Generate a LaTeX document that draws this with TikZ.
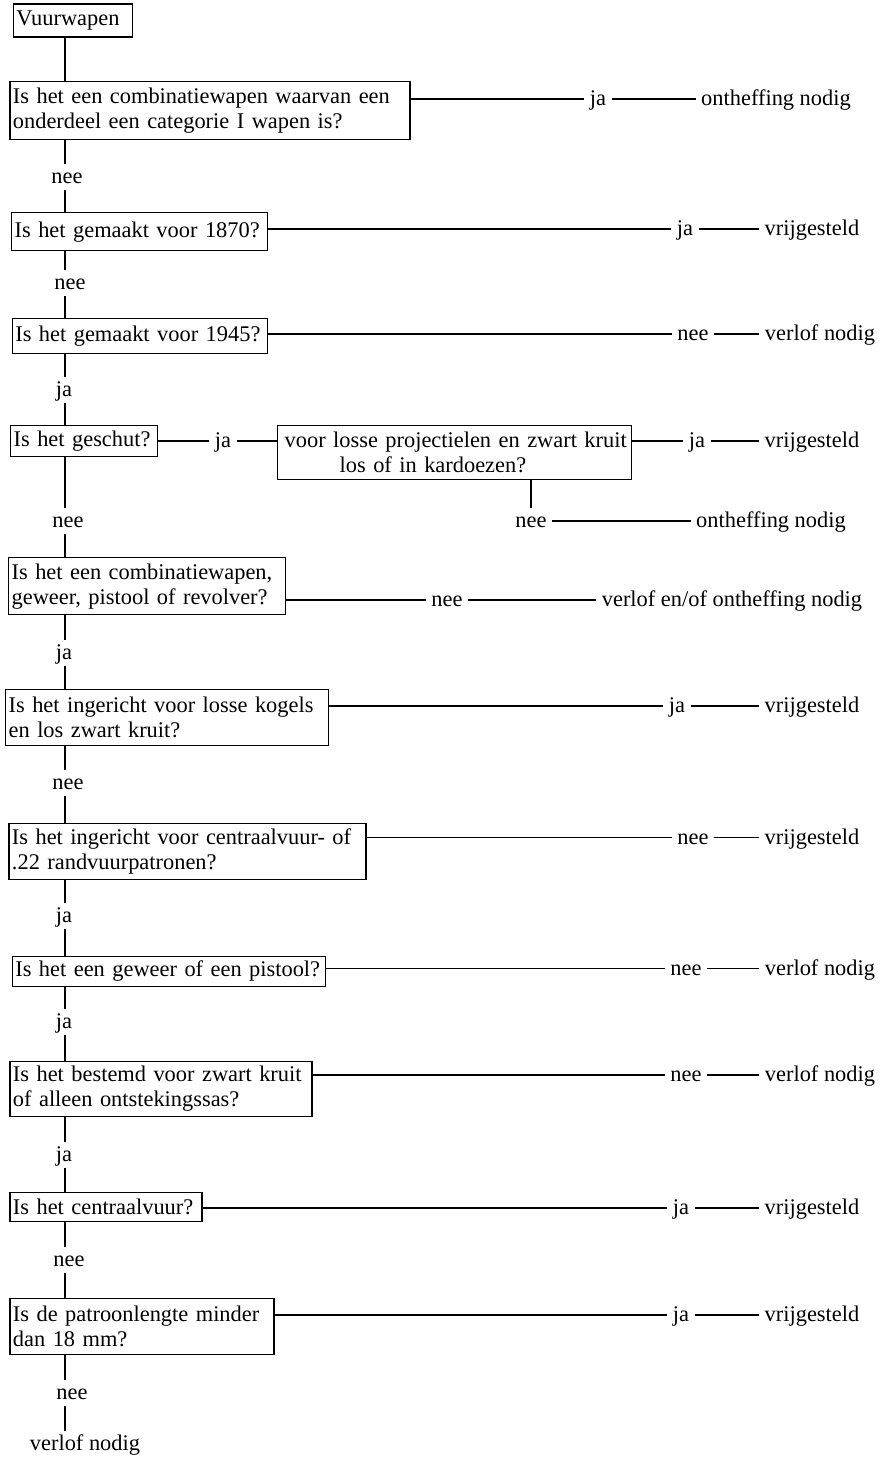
\documentclass[tikz,border=0pt]{standalone}
\usepackage{fontspec}
\setmainfont{Liberation Serif}

\begin{document}
\begin{tikzpicture}[x=1pt, y=-1pt, line width=1.3pt, font=\fontsize{22.4pt}{25pt}\selectfont]

        \tikzstyle{question}=[draw, anchor=north west, align=left, inner xsep=3pt, inner ysep=0pt]
        \tikzstyle{answer}=[inner xsep=5pt, inner ysep=6pt, text height=13pt, text depth=0pt]

        \useasboundingbox (0,0) rectangle (880,1457);
        \coordinate (spine) at (65,0);

        \node[question, text width=113pt, minimum height=33pt] (q0)  at (12.7,3.3)    {Vuurwapen};
        \node[question, text width=394pt, minimum height=58pt] (q1)  at (9.3,81)      {Is het een combinatiewapen waarvan een\\onderdeel een categorie I wapen is?};
        \node[question, text width=250pt, minimum height=38pt] (q2)  at (11,212)      {Is het gemaakt voor 1870?};
        \node[question, text width=249pt, minimum height=35pt] (q3)  at (11.7,318)    {Is het gemaakt voor 1945?};
        \node[question, text width=141pt, minimum height=31pt] (q4)  at (10,425)      {Is het geschut?};
        \node[question, text width=340pt, inner xsep=7pt, minimum height=54pt] (c4) at (277,425) {\mbox{voor losse projectielen en zwart kruit}\\\hspace*{55pt}los of in kardoezen?};
        \node[question, text width=271pt, minimum height=57pt] (q5)  at (8,557)       {Is het een combinatiewapen,\\geweer, pistool of revolver?};
        \node[question, text width=317pt, minimum height=56pt] (q6)  at (5,689)       {Is het ingericht voor losse kogels\\en los zwart kruit?};
        \node[question, text width=351pt, minimum height=56pt] (q7)  at (8.3,822.7)   {Is het ingericht voor centraalvuur- of\\.22 randvuurpatronen?};
        \node[question, text width=307pt, minimum height=30pt] (q8)  at (11.7,955.7)  {Is het een geweer of een pistool?};
        \node[question, text width=296pt, minimum height=55pt] (q9)  at (9.3,1060.7)  {Is het bestemd voor zwart kruit\\of alleen ontstekingssas?};
        \node[question, text width=186pt, minimum height=29pt] (q10) at (9.3,1191.7)  {Is het centraalvuur?};
        \node[question, text width=258pt, minimum height=56pt] (q11) at (9.3,1298)    {Is de patroonlengte minder\\dan 18 mm?};

        \node[answer] (n1)  at (67,177)  {nee};
        \node[answer] (n2)  at (70,283)  {nee};
        \node[answer] (n3)  at (64,390)  {ja};
        \node[answer] (n4)  at (68,521)  {nee};
        \node[answer] (n5)  at (64,653)  {ja};
        \node[answer] (n6)  at (68,783)  {nee};
        \node[answer] (n7)  at (64,916)  {ja};
        \node[answer] (n8)  at (64,1022) {ja};
        \node[answer] (n9)  at (64,1155) {ja};
        \node[answer] (n10) at (69,1260) {nee};
        \node[answer] (n11) at (72,1393) {nee};
        \node[answer] (r12) at (85,1444) {verlof nodig};

        \node[answer] (a1)  at (598,99)   {ja};
        \node[answer] (r1)  at (776,99)   {ontheffing nodig};
        \node[answer] (a2)  at (685,229)  {ja};
        \node[answer] (r2)  at (812,229)  {vrijgesteld};
        \node[answer] (a3)  at (693,334)  {nee};
        \node[answer] (r3)  at (820,334)  {verlof nodig};
        \node[answer] (a4)  at (223,441)  {ja};
        \node[answer] (aC)  at (697,441)  {ja};
        \node[answer] (rC1) at (812,441)  {vrijgesteld};
        \node[answer] (nC)  at (531,521)  {nee};
        \node[answer] (rC2) at (771,521)  {ontheffing nodig};
        \node[answer] (a5)  at (447,600)  {nee};
        \node[answer] (r5)  at (732,600)  {verlof en/of ontheffing nodig};
        \node[answer] (a6)  at (677,706)  {ja};
        \node[answer] (r6)  at (812,706)  {vrijgesteld};
        \node[answer] (a7)  at (693,837.5) {nee};
        \node[answer] (r7)  at (812,837.5) {vrijgesteld};
        \node[answer] (a8)  at (686,968.5) {nee};
        \node[answer] (r8)  at (820,968.5) {verlof nodig};
        \node[answer] (a9)  at (686,1075) {nee};
        \node[answer] (r9)  at (820,1075) {verlof nodig};
        \node[answer] (a10) at (681,1208) {ja};
        \node[answer] (r10) at (812,1208) {vrijgesteld};
        \node[answer] (a11) at (681,1315) {ja};
        \node[answer] (r11) at (812,1315) {vrijgesteld};

        \draw (q0.south -| spine) -- (q1.north -| spine);
        \draw (q1.south -| spine) -- (n1.north -| spine)  (n1.south -| spine) -- (q2.north -| spine);
        \draw (q2.south -| spine) -- (n2.north -| spine)  (n2.south -| spine) -- (q3.north -| spine);
        \draw (q3.south -| spine) -- (n3.north -| spine)  (n3.south -| spine) -- (q4.north -| spine);
        \draw (q4.south -| spine) -- (n4.north -| spine)  (n4.south -| spine) -- (q5.north -| spine);
        \draw (q5.south -| spine) -- (n5.north -| spine)  (n5.south -| spine) -- (q6.north -| spine);
        \draw (q6.south -| spine) -- (n6.north -| spine)  (n6.south -| spine) -- (q7.north -| spine);
        \draw (q7.south -| spine) -- (n7.north -| spine)  (n7.south -| spine) -- (q8.north -| spine);
        \draw (q8.south -| spine) -- (n8.north -| spine)  (n8.south -| spine) -- (q9.north -| spine);
        \draw (q9.south -| spine) -- (n9.north -| spine)  (n9.south -| spine) -- (q10.north -| spine);
        \draw (q10.south -| spine) -- (n10.north -| spine) (n10.south -| spine) -- (q11.north -| spine);
        \draw (q11.south -| spine) -- (n11.north -| spine) (n11.south -| spine) -- (r12.north -| spine);

        \draw (q1.east |- a1) -- (a1) -- (r1);
        \draw (q2.east |- a2) -- (a2) -- (r2);
        \draw (q3.east |- a3) -- (a3) -- (r3);
        \draw (q4.east |- a4) -- (a4) -- (c4.west |- a4);
        \draw (c4.east |- aC) -- (aC) -- (rC1);
        \draw (c4.south -| nC) -- (nC) -- (rC2);
        \draw (q5.east |- a5) -- (a5) -- (r5);
        \draw (q6.east |- a6) -- (a6) -- (r6);
        \draw (q7.east |- a7) -- (a7) -- (r7);
        \draw (q8.east |- a8) -- (a8) -- (r8);
        \draw (q9.east |- a9) -- (a9) -- (r9);
        \draw (q10.east |- a10) -- (a10) -- (r10);
        \draw (q11.east |- a11) -- (a11) -- (r11);

    \end{tikzpicture}
\end{document}
